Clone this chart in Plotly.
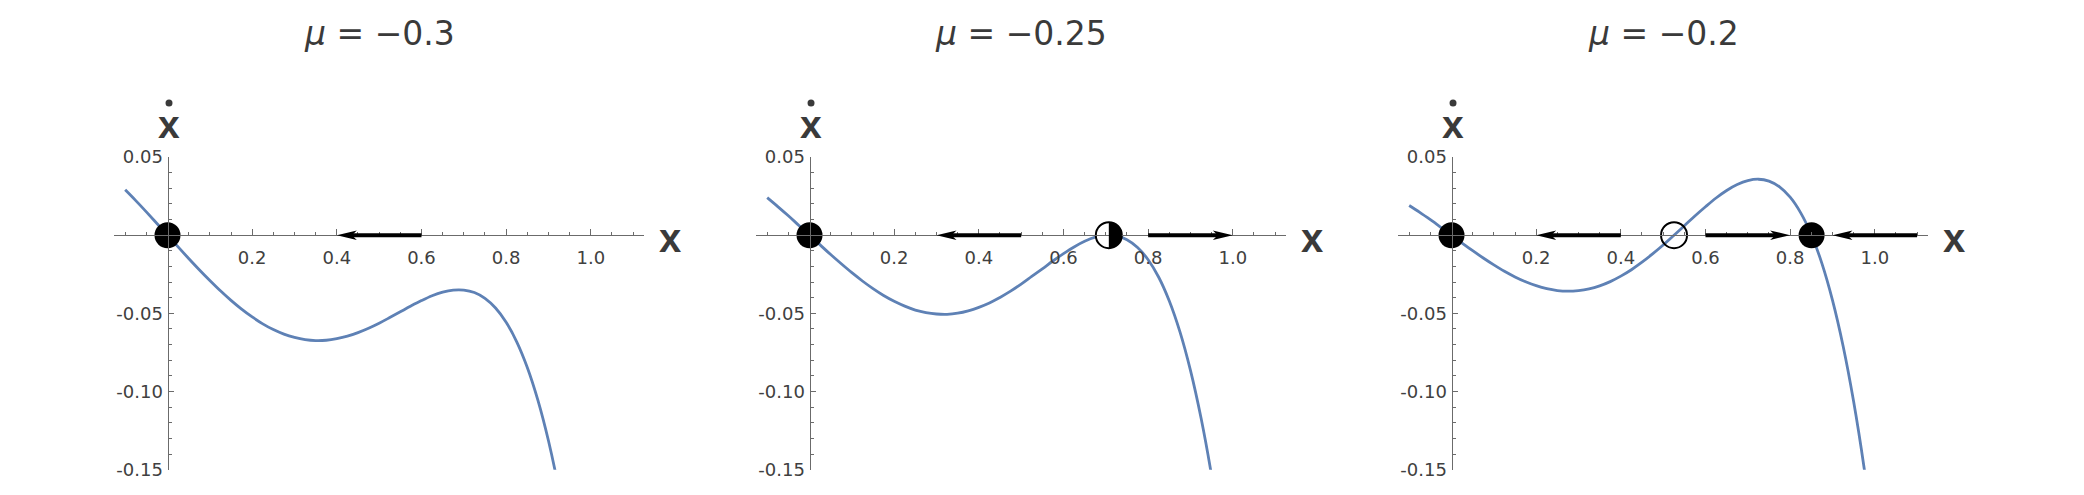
import math
import plotly.graph_objects as go

W, H = 2084, 495

# ---------------- data ----------------
mu_titles = ["−0.3", "−0.25", "−0.2"]

x_vals = [-0.1, -0.075, -0.05, -0.025, 0.0, 0.025, 0.05, 0.075, 0.1, 0.125,
          0.15, 0.175, 0.2, 0.225, 0.25, 0.275, 0.3, 0.325, 0.35, 0.375,
          0.4, 0.425, 0.45, 0.475, 0.5, 0.525, 0.55, 0.575, 0.6, 0.625,
          0.65, 0.675, 0.7, 0.725, 0.75, 0.775, 0.8, 0.825, 0.85, 0.875,
          0.9, 0.925, 0.95, 0.975, 1.0]

xdot_mu_030 = [0.0290, 0.0221, 0.0149, 0.0075, 0.0, -0.0075, -0.0149, -0.0221, -0.0290, -0.0356,
               -0.0417, -0.0473, -0.0523, -0.0567, -0.0604, -0.0633, -0.0654, -0.0668, -0.0674, -0.0672,
               -0.0662, -0.0646, -0.0623, -0.0595, -0.0563, -0.0527, -0.0490, -0.0453, -0.0418, -0.0387,
               -0.0364, -0.0351, -0.0351, -0.0367, -0.0404, -0.0466, -0.0557, -0.0682, -0.0846, -0.1055,
               -0.1315, -0.1632, -0.2014, -0.2467, -0.3000]

xdot_mu_025 = [0.0240, 0.0183, 0.0124, 0.0062, 0.0, -0.0062, -0.0124, -0.0183, -0.0240, -0.0293,
               -0.0342, -0.0386, -0.0423, -0.0454, -0.0479, -0.0495, -0.0504, -0.0506, -0.0499, -0.0484,
               -0.0462, -0.0434, -0.0398, -0.0358, -0.0313, -0.0264, -0.0215, -0.0165, -0.0118, -0.0075,
               -0.0039, -0.0013, -0.0001, -0.0005, -0.0029, -0.0079, -0.0157, -0.0269, -0.0421, -0.0617,
               -0.0865, -0.1170, -0.1539, -0.1980, -0.2500]

xdot_mu_020 = [0.0190, 0.0146, 0.0099, 0.0050, 0.0, -0.0050, -0.0099, -0.0146, -0.0190, -0.0231,
               -0.0267, -0.0298, -0.0323, -0.0342, -0.0354, -0.0358, -0.0354, -0.0343, -0.0324, -0.0297,
               -0.0262, -0.0221, -0.0173, -0.0120, -0.0063, -0.0002, 0.0060, 0.0123, 0.0182, 0.0238,
               0.0286, 0.0324, 0.0349, 0.0358, 0.0346, 0.0309, 0.0243, 0.0143, 0.0004, -0.0180,
               -0.0415, -0.0707, -0.1064, -0.1492, -0.2000]

curves = [xdot_mu_030, xdot_mu_025, xdot_mu_020]

stable_pts = [[0.0], [0.0], [0.0, 0.8507]]
unstable_pts = [[], [], [0.5257]]
half_pts = [[], [0.7071], []]

# arrows as (tail, tip)
arrows = [[(0.6, 0.4)],
          [(0.5, 0.3), (0.8, 1.0)],
          [(0.4, 0.2), (0.6, 0.8), (1.1, 0.9)]]

x_tickvals = [0.2, 0.4, 0.6, 0.8, 1.0]
x_ticktext = ["0.2", "0.4", "0.6", "0.8", "1.0"]
y_tickvals = [0.05, -0.05, -0.10, -0.15]
y_ticktext = ["0.05", "-0.05", "-0.10", "-0.15"]
x_minor = [-0.1, -0.05, 0.05, 0.1, 0.15, 0.25, 0.3, 0.35, 0.45, 0.5, 0.55,
           0.65, 0.7, 0.75, 0.85, 0.9, 0.95, 1.05, 1.1]
y_minor = [0.04, 0.03, 0.02, 0.01, -0.01, -0.02, -0.03, -0.04, -0.06, -0.07,
           -0.08, -0.09, -0.11, -0.12, -0.13, -0.14]

# ---------------- style ----------------
FONT = "DejaVu Sans, Verdana, sans-serif"
LFONT = "Liberation Sans, Arial, Helvetica, sans-serif"
CURVE = "#5E81B5"
AX = "#6b6b6b"
LBL = "#404040"
TTL = "#3a3a3a"

xr = [-0.1255, 1.125]
yr = [-0.15, 0.05]
doms = [[0.05489, 0.30888], [0.36296, 0.61694], [0.67102, 0.92500]]
ydom = [0.03232, 0.69192]
xaxis_pos = ydom[0] + (0 - yr[0]) / (yr[1] - yr[0]) * (ydom[1] - ydom[0])

fig = go.Figure()
shapes = []
annotations = []

HEAD_L, HEAD_H, NOTCH = 20.0, 4.8, 15.0
R = 13.0

for i in range(3):
    xa = "x" if i == 0 else f"x{i+1}"
    ya = "y" if i == 0 else f"y{i+1}"
    dom = doms[i]
    px_per_x = (dom[1] - dom[0]) * W / (xr[1] - xr[0])

    def xpaper(v, dom=dom):
        return dom[0] + (v - xr[0]) / (xr[1] - xr[0]) * (dom[1] - dom[0])

    fig.add_trace(go.Scatter(
        x=x_vals, y=curves[i], mode="lines",
        line=dict(color=CURVE, width=2.8, shape="spline", smoothing=1.0),
        xaxis=xa, yaxis=ya, hoverinfo="skip"))

    if stable_pts[i]:
        fig.add_trace(go.Scatter(
            x=stable_pts[i], y=[0] * len(stable_pts[i]), mode="markers",
            marker=dict(size=26, color="black", line=dict(width=0)),
            xaxis=xa, yaxis=ya, hoverinfo="skip"))
    if unstable_pts[i]:
        fig.add_trace(go.Scatter(
            x=unstable_pts[i], y=[0] * len(unstable_pts[i]), mode="markers",
            marker=dict(size=26, color="rgba(0,0,0,0)",
                        line=dict(width=2, color="black")),
            xaxis=xa, yaxis=ya, hoverinfo="skip"))
    if half_pts[i]:
        fig.add_trace(go.Scatter(
            x=half_pts[i], y=[0] * len(half_pts[i]), mode="markers",
            marker=dict(size=26, color="white",
                        line=dict(width=2, color="black")),
            xaxis=xa, yaxis=ya, hoverinfo="skip"))
        for hp in half_pts[i]:
            pts = []
            for k in range(0, 37):
                a = -math.pi / 2 + math.pi * k / 36
                pts.append((R * math.cos(a), R * math.sin(a)))
            path = "M" + " L".join(f"{px:.2f},{py:.2f}" for px, py in pts) + " Z"
            shapes.append(dict(type="path", xref=xa, yref=ya,
                               xsizemode="pixel", ysizemode="pixel",
                               xanchor=hp, yanchor=0, path=path,
                               fillcolor="black", line=dict(width=0)))

    for tail, tip in arrows[i]:
        d = 1 if tip > tail else -1
        shaft_end = tip - d * 12.0 / px_per_x
        shapes.append(dict(type="line", xref=xa, yref=ya,
                           x0=tail, x1=shaft_end, y0=0, y1=0,
                           line=dict(color="black", width=4)))
        hp = (f"M0,0 L{-d*HEAD_L:.1f},{-HEAD_H:.1f} L{-d*NOTCH:.1f},0 "
              f"L{-d*HEAD_L:.1f},{HEAD_H:.1f} Z")
        shapes.append(dict(type="path", xref=xa, yref=ya,
                           xsizemode="pixel", ysizemode="pixel",
                           xanchor=tip, yanchor=0, path=hp,
                           fillcolor="black", line=dict(width=0)))

    yaxis_pos = xpaper(0.0)

    xkey = "xaxis" if i == 0 else f"xaxis{i+1}"
    ykey = "yaxis" if i == 0 else f"yaxis{i+1}"
    fig.layout[xkey] = dict(
        domain=dom, range=xr, anchor="free", position=xaxis_pos,
        showgrid=False, zeroline=False, showline=True, linecolor=AX, linewidth=1,
        ticks="inside", ticklen=6, tickwidth=1, tickcolor=AX,
        tickmode="array", tickvals=x_tickvals, ticktext=x_ticktext,
        tickfont=dict(family=FONT, size=18, color=LBL),
        ticklabelstandoff=6,
        minor=dict(tickmode="array", tickvals=x_minor, ticks="inside",
                   ticklen=3.5, tickwidth=1, tickcolor=AX, showgrid=False),
        fixedrange=True)
    fig.layout[ykey] = dict(
        domain=ydom, range=yr, anchor="free", position=yaxis_pos,
        showgrid=False, zeroline=False, showline=True, linecolor=AX, linewidth=1,
        ticks="inside", ticklen=5, tickwidth=1, tickcolor=AX,
        tickmode="array", tickvals=y_tickvals, ticktext=y_ticktext,
        tickfont=dict(family=FONT, size=18, color=LBL),
        ticklabelstandoff=1,
        minor=dict(tickmode="array", tickvals=y_minor, ticks="inside",
                   ticklen=3, tickwidth=1, tickcolor=AX, showgrid=False),
        fixedrange=True)

    # title
    annotations.append(dict(
        xref="paper", yref="paper", x=(dom[0] + dom[1]) / 2, y=0.953,
        xanchor="center", yanchor="middle", showarrow=False,
        text=f"<i>μ</i> = {mu_titles[i]}",
        font=dict(family=FONT, size=33, color=TTL)))
    # x axis label
    annotations.append(dict(
        xref="paper", yref="paper", x=xpaper(1.1875), y=0.522,
        xanchor="center", yanchor="middle", showarrow=False,
        text="<b>x</b>", font=dict(family=LFONT, size=40, color=TTL)))
    # x-dot label
    annotations.append(dict(
        xref="paper", yref="paper", x=xpaper(0.0025), y=0.7616,
        xanchor="center", yanchor="middle", showarrow=False,
        text="<b>x</b>", font=dict(family=LFONT, size=39, color=TTL)))
    shapes.append(dict(type="circle", xref=xa, yref="paper",
                       xsizemode="pixel", ysizemode="pixel",
                       xanchor=0.0, yanchor=0.806,
                       x0=-2.0, x1=5.0, y0=-3.5, y1=3.5,
                       fillcolor=TTL, line=dict(width=0)))

fig.update_layout(
    width=W, height=H, margin=dict(l=0, r=0, t=0, b=0),
    paper_bgcolor="white", plot_bgcolor="white",
    showlegend=False, shapes=shapes, annotations=annotations,
    font=dict(family=FONT))

fig.write_html("out.html",
               config={"displayModeBar": False, "staticPlot": True},
               post_script="document.body.style.margin='0px';"
                           "document.body.style.overflow='hidden';")
